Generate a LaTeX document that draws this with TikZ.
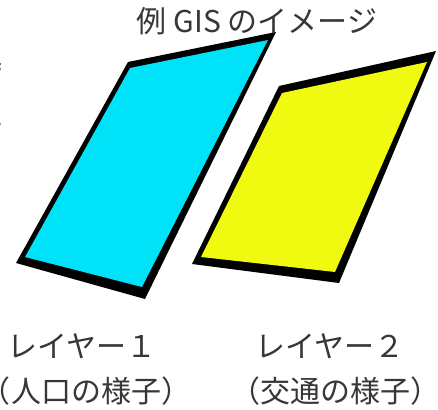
\documentclass[tikz,border=0pt]{standalone}
\usepackage{fontspec}
\newfontfamily\jpfont{Noto Sans CJK JP}
\definecolor{layercyan}{RGB}{0,226,248}
\definecolor{layeryellow}{RGB}{240,250,16}
\definecolor{txtgray}{RGB}{55,55,55}
\tikzset{
  lbl/.style={font=\jpfont\fontsize{30}{30}\selectfont, text=txtgray, inner sep=0pt},
  ttl/.style={font=\jpfont\fontsize{30}{30}\selectfont, text=txtgray, inner sep=0pt},
  frame/.style={fill=black},
}
\begin{document}
\begin{tikzpicture}[x=1pt,y=-1pt]
\useasboundingbox (0,0) rectangle (438,409);
\clip (0,0) rectangle (438,409);
% layer 1 (cyan)
\fill[frame] (128,62) -- (276,32) -- (145,299) -- (16,263) -- cycle;
\fill[layercyan] (130,68) -- (268,40) -- (142,287) -- (25,257) -- cycle;
% layer 2 (yellow)
\fill[frame] (279,86) -- (436,51) -- (339,283) -- (192,264) -- cycle;
\fill[layeryellow] (282,93) -- (427,62) -- (335,272) -- (201,257) -- cycle;
% title
\node[ttl] (title) at (257,21) {例 GIS のイメージ};
% labels
\node[lbl] (l1) at (82,346) {レイヤー１};
\node[lbl] (l1b) at (86,391) {（人口の様子）};
\node[lbl] (l2) at (330,346) {レイヤー２};
\node[lbl] (l2b) at (335,391) {（交通の様子）};
% clipped text at the left edge
\node[lbl, anchor=east] (c1) at (3,67) {接};
\node[lbl, anchor=east] (c2) at (3,112) {土};
\node[lbl, anchor=east] (c3) at (3,157) {同};
\end{tikzpicture}
\end{document}
